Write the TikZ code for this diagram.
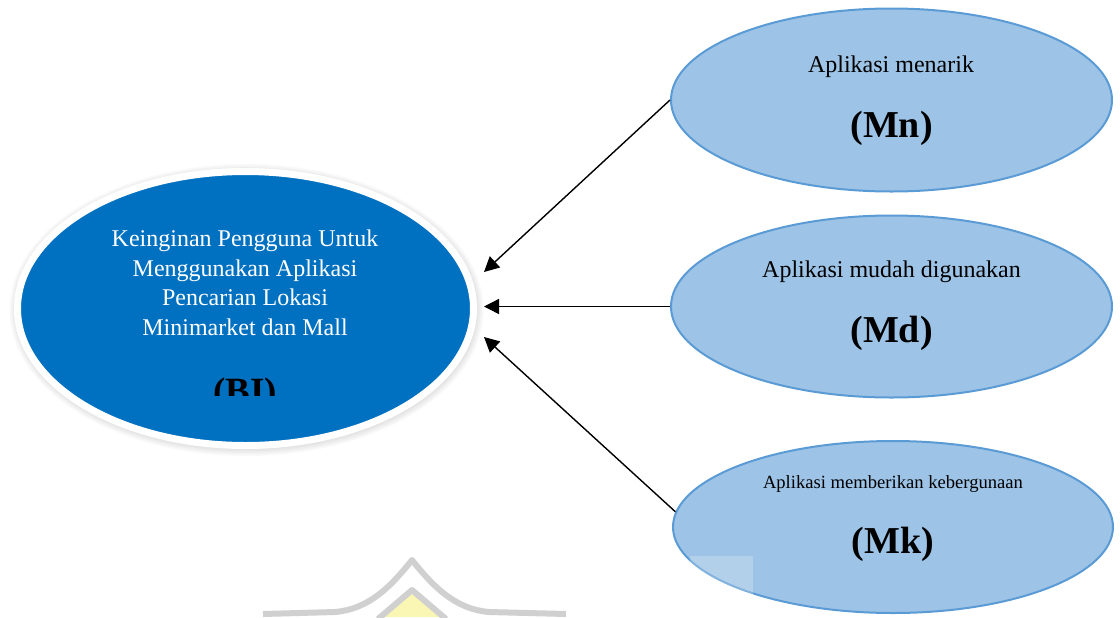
\documentclass[tikz,border=0pt]{standalone}
\usepackage{fontspec}
\setmainfont{Liberation Serif}
\usetikzlibrary{shapes.geometric,arrows.meta}
\definecolor{bidark}{RGB}{0,112,192}
\definecolor{lightfill}{RGB}{157,195,230}
\definecolor{lightedge}{RGB}{91,155,213}
\definecolor{wmgrey}{RGB}{208,208,208}
\definecolor{wmyellow}{RGB}{250,246,180}
\tikzset{
  bigell/.style={ellipse, draw=white, line width=3.5pt, fill=bidark, minimum width=228pt, minimum height=137pt, inner sep=0pt},
  smallell/.style={ellipse, draw=lightedge, line width=1pt, fill=lightfill, minimum width=220.5pt, minimum height=91pt, inner sep=0pt},
  wtext/.style={text=white, anchor=base, inner sep=0pt, font=\fontsize{12}{14}\selectfont},
  btext/.style={text=black, anchor=base, inner sep=0pt, font=\fontsize{12}{14}\selectfont},
  stext/.style={text=black, anchor=base, inner sep=0pt, font=\fontsize{9.3}{11}\selectfont},
  code/.style={text=black, anchor=base, inner sep=0pt, font=\fontsize{19}{22}\selectfont\bfseries},
  arr/.style={draw=black, line width=0.7pt, -{Triangle[length=7.5pt,width=7.5pt]}},
  wm/.style={draw=wmgrey, line width=3pt, line join=round}
}
\begin{document}
\begin{tikzpicture}[x=0.5pt,y=-0.5pt]
\useasboundingbox (0,0) rectangle (1120,617);
% soft shadow of the left ellipse
\foreach \i in {1,...,5}{
  \fill[black, opacity=0.022] (246.5,310) ellipse ({229+1.6*\i} and {138+1.6*\i});
}
% left ellipse
\node[bigell] (BI) at (245.5,308.5) {};
\node[wtext] (BI1) at (245,246) {Keinginan Pengguna Untuk};
\node[wtext] (BI2) at (245,276) {Menggunakan Aplikasi};
\node[wtext] (BI3) at (245,305) {Pencarian Lokasi};
\node[wtext] (BI4) at (245,335) {Minimarket dan Mall};
\begin{scope}
  \clip (150,360) rectangle (340,395);
  \node[code, font=\fontsize{18.5}{22}\selectfont\bfseries] (BIc) at (245,403) {(BI)};
\end{scope}
% right ellipses
\node[smallell, minimum height=91.5pt] (Mn) at (891.5,100) {};
\node[btext] (Mnt) at (891,72) {Aplikasi menarik};
\node[code] (Mnc) at (891.5,137) {(Mn)};
\node[smallell] (Md) at (891.5,306.5) {};
\node[btext] (Mdt) at (891.5,277) {Aplikasi mudah digunakan};
\node[code] (Mdc) at (891.5,342) {(Md)};
\node[smallell, minimum width=220pt, minimum height=86pt] (Mk) at (893,527) {};
\node[stext] (Mkt) at (893,488) {Aplikasi memberikan kebergunaan};
\node[code] (Mkc) at (893,553) {(Mk)};
% light square artefact
\fill[white, opacity=0.23] (690,556) rectangle (753,617);
% arrows
\coordinate (t1) at (484,272);
\coordinate (t2) at (484,306.5);
\coordinate (t3) at (484,337);
\draw[arr] (Mn.west) -- (t1);
\draw[arr] (Md.west) -- (t2);
\draw[arr] (Mk.176) -- (t3);
% watermark
\fill[wmyellow] (383,617) -- (412,592) -- (441,617) -- cycle;
\draw[wm] (378,619) -- (412,590) -- (446,619);
\draw[wm] (263,614) -- (335,612) .. controls (370,609) and (392,585) .. (412,560) .. controls (432,585) and (454,609) .. (489,612) -- (566,614);
\end{tikzpicture}
\end{document}
